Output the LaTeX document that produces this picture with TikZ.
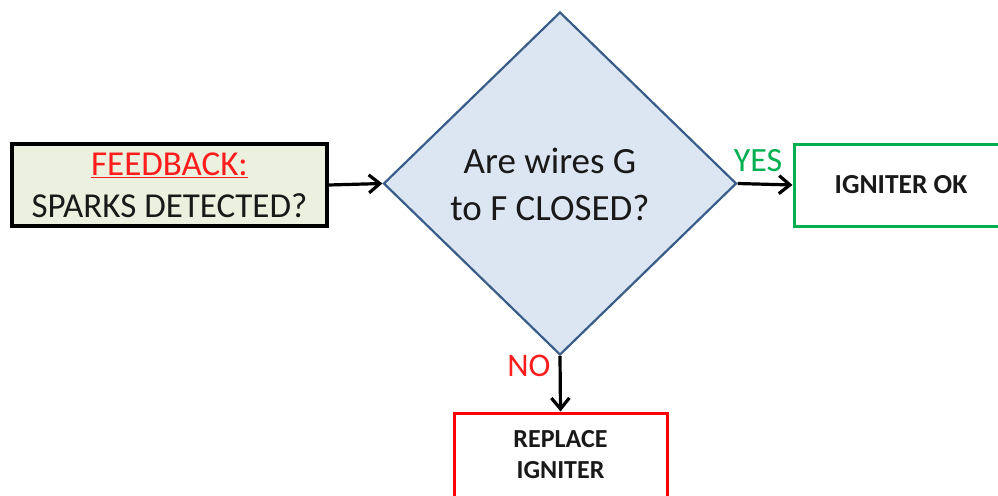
\documentclass[tikz,border=0pt]{standalone}
\usepackage{fontspec}
\setmainfont{Carlito}
\usetikzlibrary{shapes.geometric,arrows.meta}
\definecolor{fbred}{RGB}{255,28,28}
\definecolor{okgreen}{RGB}{0,176,80}
\definecolor{boxgreen}{RGB}{235,241,222}
\definecolor{qfill}{RGB}{220,230,242}
\definecolor{qline}{RGB}{56,93,138}
\definecolor{txt}{RGB}{25,25,25}
\begin{document}
\begin{tikzpicture}[x=1pt,y=-1pt,
  conn/.style={line width=3.2pt,-{Straight Barb[length=11pt,width=18pt,line width=3.2pt]}},
  rbox/.style={rectangle,inner sep=0pt,align=center,text=txt},
  lbl/.style={inner sep=0pt}]
\useasboundingbox (0,0) rectangle (998,495);
\node[rbox,draw=black,line width=3.4pt,fill=boxgreen,minimum width=315pt,minimum height=82pt,
  font=\fontsize{35}{42}\selectfont] (fb) at (169.5,185)
  {\textcolor{fbred}{\underline{FEEDBACK:}}\\SPARKS DETECTED?};
\node[diamond,draw=qline,line width=2.2pt,fill=qfill,minimum width=353pt,minimum height=343pt,inner sep=0pt] (q) at (560,183.5) {};
\node[align=center,text=txt,inner sep=0pt,font=\fontsize{37}{47}\selectfont] (qt) at (550,184) {Are wires G\\to F CLOSED?};
\node[rbox,draw=okgreen,line width=3pt,fill=white,minimum width=214pt,minimum height=82pt,
  font=\bfseries\fontsize{27.5}{30}\selectfont] (ok) at (901,185) {IGNITER OK};
\node[rbox,draw=red,line width=3pt,fill=white,minimum width=213pt,minimum height=84pt,
  font=\bfseries\fontsize{26}{31}\selectfont] (rep) at (560.5,455) {REPLACE\\IGNITER};
\node[lbl,text=okgreen,font=\fontsize{34}{40}\selectfont] (yes) at (758,161) {YES};
\node[lbl,text=fbred,font=\fontsize{33}{40}\selectfont] (no) at (529,366) {NO};
\draw[conn] (fb.east) -- (q.west);
\draw[conn] (q.east) -- (ok.west);
\draw[conn] (q.south) -- (rep.north);
\end{tikzpicture}
\end{document}
